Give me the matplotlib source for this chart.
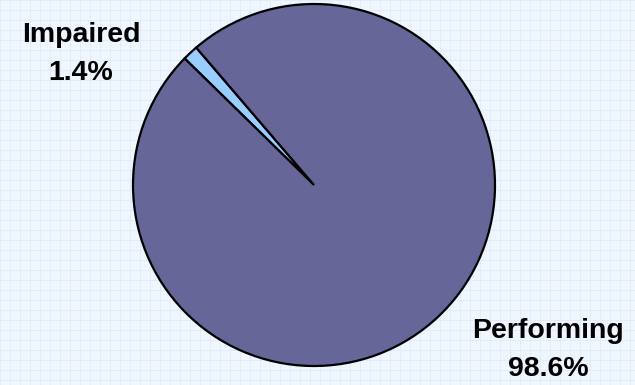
import numpy as np
import matplotlib.pyplot as plt

categories = ['Impaired', 'Performing']
shares = [1.4, 98.6]
slice_colors = ['#99CCFF', '#666699']

W, H = 635, 385
cx, cy, radius = 314, H - 185, 181

fig = plt.figure(figsize=(W / 100, H / 100), dpi=100)
fig.patch.set_facecolor('#F0F6FD')
ax = fig.add_axes([0, 0, 1, 1])
ax.set_facecolor('#F0F6FD')

# graph-paper background
for x in np.arange(0, W, 10):
    ax.axvline(x, color='#E0ECFA', lw=0.7, zorder=0)
for y in np.arange(H, 0, -10):
    ax.axhline(y, color='#E0ECFA', lw=0.7, zorder=0)

ax.pie(shares, colors=slice_colors, startangle=130.6, counterclock=True,
       center=(cx, cy), radius=radius, frame=True,
       wedgeprops=dict(edgecolor='black', linewidth=1.6))
ax.set_xlim(0, W)
ax.set_ylim(0, H)
ax.axis('off')

font = dict(family='Liberation Sans', weight='bold', fontsize=20.5,
            ha='center', va='center', linespacing=1.55)
ax.text(81, H - 54, '%s\n%.1f%%' % (categories[0], shares[0]), **font)
ax.text(548, H - 350, '%s\n%.1f%%' % (categories[1], shares[1]), **font)

fig.savefig('out.png', dpi=100, facecolor=fig.get_facecolor())
